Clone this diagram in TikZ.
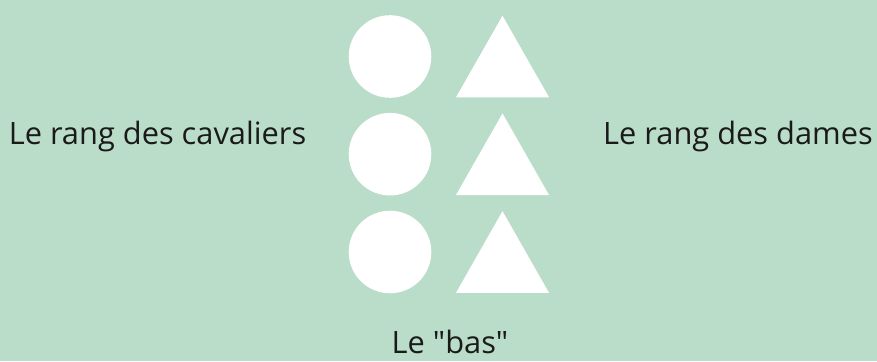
\documentclass[tikz,border=0pt]{standalone}
\usepackage{fontspec}
\setmainfont{Open Sans}[Ligatures=TeXOff]
\definecolor{bg}{HTML}{BADDC9}
\definecolor{txt}{HTML}{1A1A1A}
\begin{document}
\begin{tikzpicture}[x=1pt,y=-1pt,
  piece/.style={fill=white,draw=none},
  lab/.style={anchor=base,inner sep=0pt,text=txt,font=\fontsize{30.8}{36}\selectfont}]
\fill[bg] (0,0) rectangle (877,361);
\useasboundingbox (0,0) rectangle (877,361);
\foreach \i/\y in {1/56.5,2/154.2,3/252} {
  \fill[piece] (390,\y) circle[radius=41.3];
  \fill[piece] (502.5,\y-40.8) -- (549,\y+40.8) -- (456,\y+40.8) -- cycle;
}
\node[lab] (cav) at (157.5,144) {Le rang des cavaliers};
\node[lab] (dam) at (738,144) {Le rang des dames};
\node[lab] (bas) at (450,353) {Le "bas"};
\end{tikzpicture}
\end{document}
